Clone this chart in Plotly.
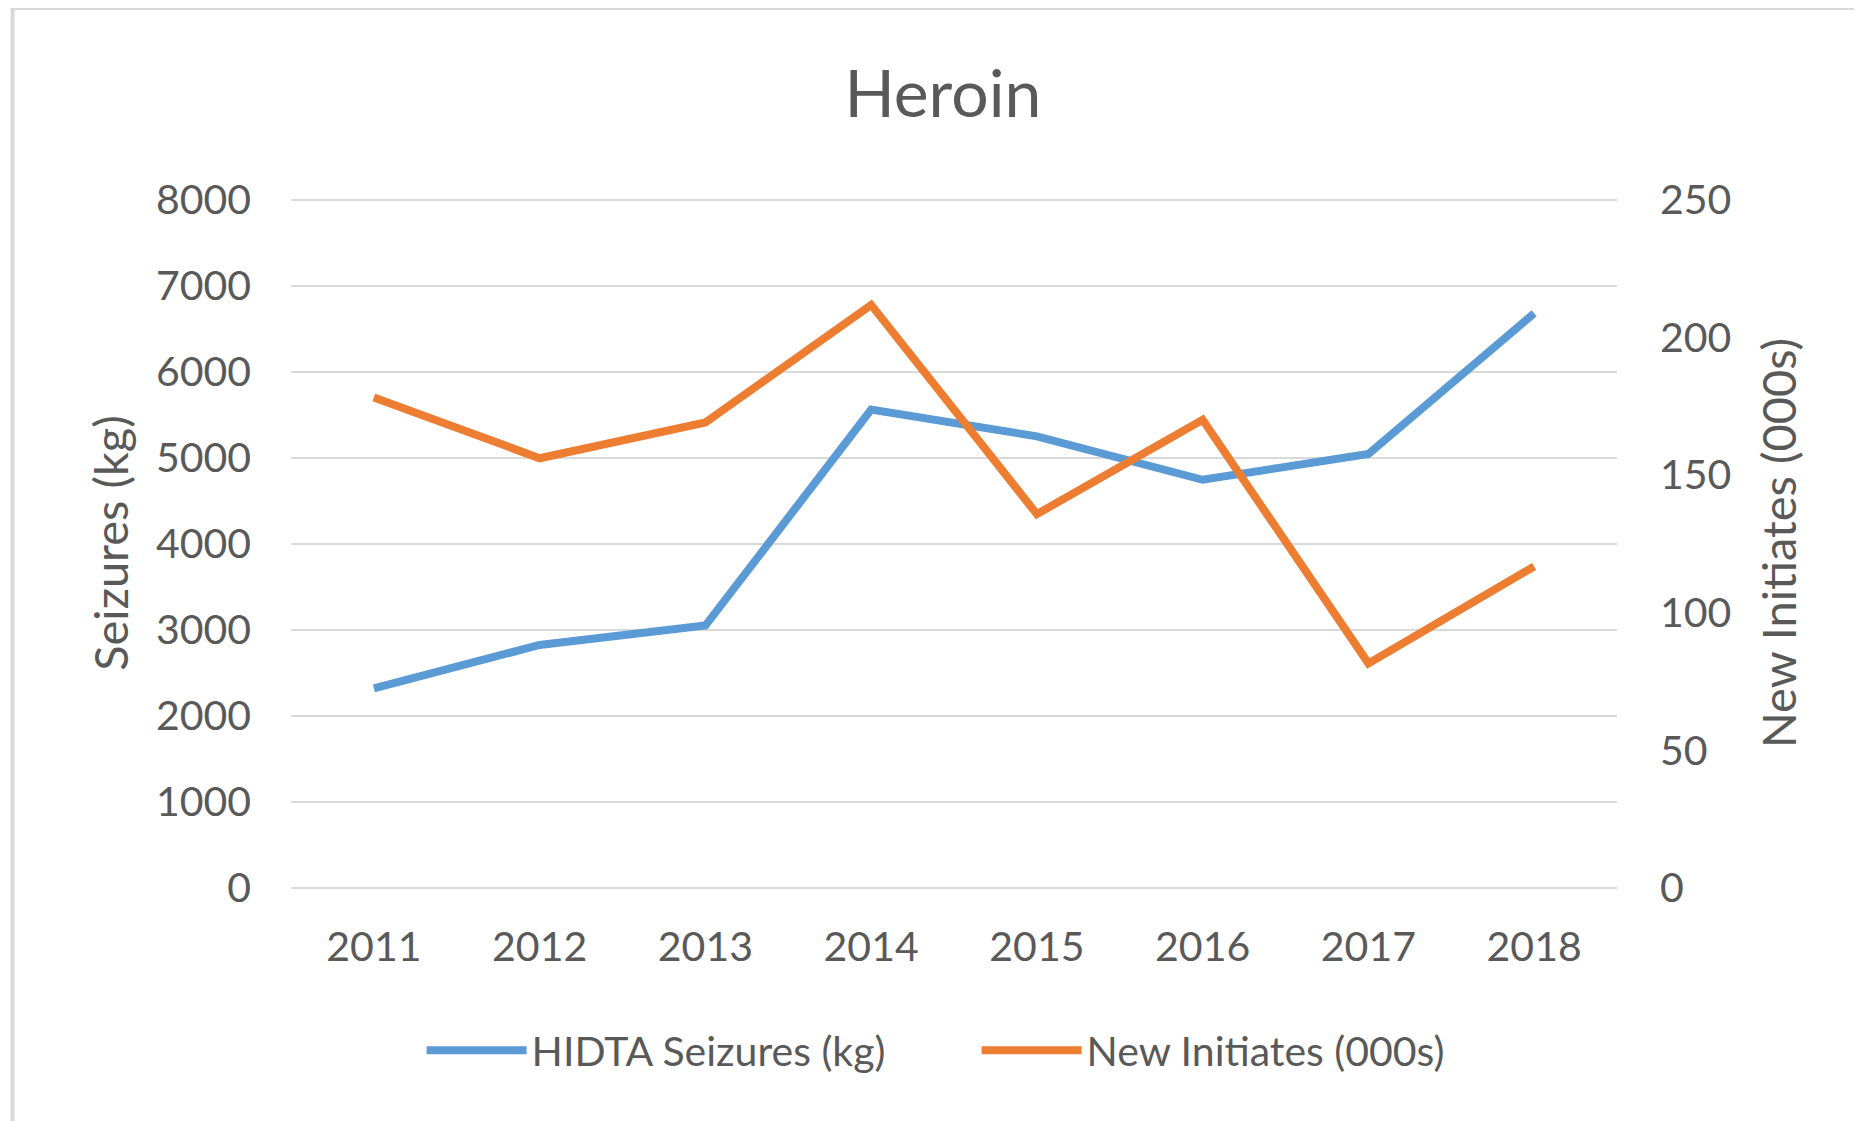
import plotly.graph_objects as go
from plotly.subplots import make_subplots

years = ["2011", "2012", "2013", "2014", "2015", "2016", "2017", "2018"]
seizures_kg = [2320, 2825, 3050, 5560, 5250, 4745, 5045, 6680]
new_initiates = [178.2, 156.1, 169.1, 211.8, 135.8, 170.1, 81.6, 116.8]

GRAY_TEXT = "#595959"
GRID = "#D9D9D9"
FONT = "Lato"

fig = make_subplots(specs=[[{"secondary_y": True}]])

fig.add_trace(
    go.Scatter(
        x=years, y=seizures_kg, name="HIDTA Seizures (kg)", mode="lines",
        line=dict(color="#5B9BD5", width=8),
    ),
    secondary_y=False,
)
fig.add_trace(
    go.Scatter(
        x=years, y=new_initiates, name="New Initiates (000s)", mode="lines",
        line=dict(color="#ED7D31", width=8),
    ),
    secondary_y=True,
)

# outer chart border (partly cropped in the original)
fig.add_shape(
    type="rect", xref="paper", yref="paper",
    x0=-0.210, x1=1.4, y0=-0.6, y1=1.2754,
    line=dict(color=GRID, width=4), fillcolor="rgba(0,0,0,0)", layer="below",
)

fig.update_xaxes(
    type="category", range=[-0.5, 7.5], domain=[0, 1],
    showgrid=False, showline=False,
    ticks="", ticklabelstandoff=31, automargin=False,
    tickfont=dict(family=FONT, size=41, color=GRAY_TEXT),
)
# a little headroom so the 8000 gridline is not dropped at the edge
fig.update_yaxes(
    range=[0, 8020], tickvals=[0, 1000, 2000, 3000, 4000, 5000, 6000, 7000, 8000],
    showgrid=True, gridcolor=GRID, gridwidth=2,
    zeroline=True, zerolinecolor=GRID, zerolinewidth=2, showline=False,
    ticks="", ticklabelstandoff=39, automargin=False,
    tickfont=dict(family=FONT, size=41, color=GRAY_TEXT),
    title=dict(text="Seizures (kg)", standoff=12,
               font=dict(family=FONT, size=47, color=GRAY_TEXT)),
    secondary_y=False,
)
fig.update_yaxes(
    range=[0, 250.625], tickvals=[0, 50, 100, 150, 200, 250],
    showgrid=False, zeroline=False, showline=False,
    ticks="", ticklabelstandoff=42, automargin=False,
    tickfont=dict(family=FONT, size=41, color=GRAY_TEXT),
    title=dict(text="New Initiates (000s)", standoff=32,
               font=dict(family=FONT, size=47, color=GRAY_TEXT)),
    secondary_y=True,
)

fig.update_layout(
    width=1862, height=1121,
    margin=dict(l=283, r=253, t=190, b=241, autoexpand=False),
    paper_bgcolor="white", plot_bgcolor="white",
    title=dict(
        text="Heroin", x=0.5021, xanchor="center", y=0.923, yanchor="middle",
        font=dict(family=FONT, size=66, color=GRAY_TEXT),
    ),
    legend=dict(
        orientation="h", x=0.0985, xanchor="left", y=-0.2355, yanchor="middle",
        font=dict(family=FONT, size=41, color=GRAY_TEXT),
        itemwidth=100, entrywidth=440,
    ),
    showlegend=True,
)

fig.write_html("out.html")
